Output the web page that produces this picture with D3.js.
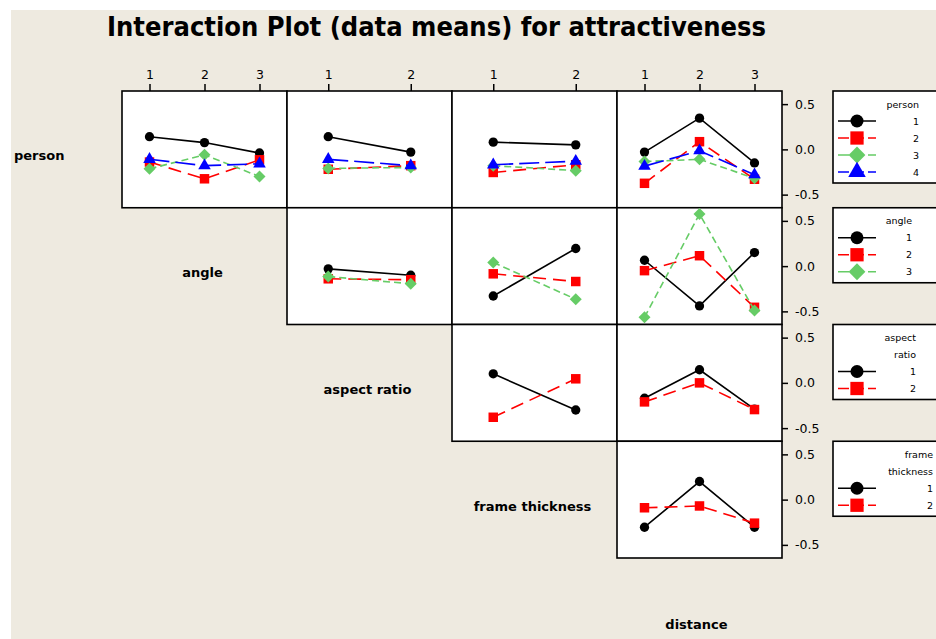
<!DOCTYPE html>
<html>
<head>
<meta charset="utf-8">
<script src="https://cdn.jsdelivr.net/npm/d3@7"></script>
<style>
  body { margin: 0; background: #ffffff; }
  svg { display: block; }
</style>
</head>
<body>
<script>

var title = "Interaction Plot (data means) for attractiveness";
var rowFactors = [ "person", "angle", "aspect ratio", "frame thickness" ];
var colFactors = [ "angle", "aspect ratio", "frame thickness", "distance" ];
var colLevels = [ [ 1, 2, 3 ], [ 1, 2 ], [ 1, 2 ], [ 1, 2, 3 ] ];
var rowLevels = [ [ 1, 2, 3, 4 ], [ 1, 2, 3 ], [ 1, 2 ], [ 1, 2 ] ];
var legendTitles = [ [ "person" ], [ "angle" ], [ "aspect", "ratio" ], [ "frame", "thickness" ] ];
var yTicks = [ -0.5, 0.0, 0.5 ];

// means of attractiveness: one array per trace level, one value per x level
var personByAngle = [ [ 0.14, 0.075, -0.04 ], [ -0.14, -0.325, -0.115 ], [ -0.215, -0.06, -0.30 ], [ -0.11, -0.18, -0.16 ] ];
var personByAspect = [ [ 0.14, -0.03 ], [ -0.22, -0.18 ], [ -0.21, -0.20 ], [ -0.11, -0.18 ] ];
var personByFrame = [ [ 0.08, 0.05 ], [ -0.255, -0.17 ], [ -0.18, -0.235 ], [ -0.17, -0.13 ] ];
var personByDistance = [ [ -0.03, 0.345, -0.15 ], [ -0.375, 0.085, -0.33 ], [ -0.135, -0.11, -0.32 ], [ -0.185, -0.015, -0.28 ] ];
var angleByAspect = [ [ -0.03, -0.10 ], [ -0.14, -0.15 ], [ -0.115, -0.195 ] ];
var angleByFrame = [ [ -0.33, 0.195 ], [ -0.085, -0.17 ], [ 0.04, -0.365 ] ];
var angleByDistance = [ [ 0.065, -0.44, 0.15 ], [ -0.05, 0.115, -0.455 ], [ -0.565, 0.575, -0.49 ] ];
var aspectByFrame = [ [ 0.10, -0.30 ], [ -0.38, 0.045 ] ];
var aspectByDistance = [ [ -0.17, 0.145, -0.29 ], [ -0.21, 0.0, -0.295 ] ];
var frameByDistance = [ [ -0.305, 0.20, -0.305 ], [ -0.09, -0.07, -0.26 ] ];

var panels = [
  { row: 0, col: 0, means: personByAngle },
  { row: 0, col: 1, means: personByAspect },
  { row: 0, col: 2, means: personByFrame },
  { row: 0, col: 3, means: personByDistance },
  { row: 1, col: 1, means: angleByAspect },
  { row: 1, col: 2, means: angleByFrame },
  { row: 1, col: 3, means: angleByDistance },
  { row: 2, col: 2, means: aspectByFrame },
  { row: 2, col: 3, means: aspectByDistance },
  { row: 3, col: 3, means: frameByDistance }
];

var seriesStyles = [
  { color: "#000000", dash: null, shape: "circle" },
  { color: "#ff0000", dash: "13,7", shape: "square" },
  { color: "#66cc66", dash: "7,4", shape: "diamond" },
  { color: "#0000ff", dash: "20,6", shape: "triangle" }
];

var chartWidth = 936, chartHeight = 639;
var gridLeft = 122, gridTop = 91, colW = 165, rowH = 116.75;
var fontFamily = "'DejaVu Sans', sans-serif";

var svg = d3.select( "body" ).append( "svg" )
  .attr( "width", chartWidth ).attr( "height", chartHeight );

svg.append( "rect" ).attr( "x", 11 ).attr( "y", 10 )
  .attr( "width", chartWidth - 11 ).attr( "height", chartHeight - 10 )
  .attr( "fill", "#eeeae0" );

svg.append( "text" )
  .attr( "x", 107 ).attr( "y", 36 )
  .attr( "textLength", 659 ).attr( "lengthAdjust", "spacingAndGlyphs" )
  .style( "font-family", fontFamily ).style( "font-weight", "bold" ).style( "font-size", "26px" )
  .text( title );

var xScales = colLevels.map( function( levels, c ) {
  return d3.scalePoint().domain( levels ).range( [ gridLeft + c * colW, gridLeft + ( c + 1 ) * colW ] ).padding( 0.5 );
} );
var yScales = rowFactors.map( function( f, r ) {
  return d3.scaleLinear().domain( [ -0.645, 0.645 ] ).range( [ gridTop + ( r + 1 ) * rowH, gridTop + r * rowH ] );
} );

function symbolPath( shape, big ) {
  var k = big ? 1.4 : 1;
  if( shape === "circle" ) {
    return d3.symbol( d3.symbolCircle, 68 * k * k )();
  }
  if( shape === "square" ) {
    return d3.symbol( d3.symbolSquare, 90 * k * k )();
  }
  if( shape === "diamond" ) {
    return d3.symbol( d3.symbolSquare, 72 * k * k )();
  }
  return d3.symbol( d3.symbolTriangle, 68 * k * k )();
}

function drawMarker( g, style, x, y, big ) {
  g.append( "path" )
    .attr( "d", symbolPath( style.shape, big ) )
    .attr( "transform", "translate(" + x + "," + y + ")" + ( style.shape === "diamond" ? " rotate(45)" : "" ) )
    .attr( "fill", style.color );
}

// panel frames
var frames = svg.append( "g" );
panels.forEach( function( p ) {
  frames.append( "rect" )
    .attr( "x", gridLeft + p.col * colW ).attr( "y", gridTop + p.row * rowH )
    .attr( "width", colW ).attr( "height", rowH )
    .attr( "fill", "#ffffff" ).attr( "stroke", "#000000" ).attr( "stroke-width", 1.6 );
} );

// top axes
colLevels.forEach( function( levels, c ) {
  var ax = svg.append( "g" ).attr( "transform", "translate(0," + gridTop + ")" )
    .call( d3.axisTop( xScales[ c ] ).tickSize( 7 ).tickPadding( 5 ) );
  ax.select( ".domain" ).remove();
  ax.selectAll( "line" ).attr( "stroke-width", 1.5 );
  ax.selectAll( "text" ).style( "font-family", fontFamily ).style( "font-size", "12.5px" );
} );

// right axes
rowFactors.forEach( function( f, r ) {
  var ax = svg.append( "g" ).attr( "transform", "translate(" + ( gridLeft + 4 * colW ) + ",0)" )
    .call( d3.axisRight( yScales[ r ] ).tickValues( yTicks ).tickSize( 6 ).tickPadding( 7 )
      .tickFormat( function( v ) { return v.toFixed( 1 ); } ) );
  ax.select( ".domain" ).remove();
  ax.selectAll( "line" ).attr( "stroke-width", 1.5 );
  ax.selectAll( "text" ).style( "font-family", fontFamily ).style( "font-size", "12.5px" );
} );

// traces
panels.forEach( function( p ) {
  var g = svg.append( "g" );
  var x = xScales[ p.col ], y = yScales[ p.row ];
  var levels = colLevels[ p.col ];
  p.means.forEach( function( values, s ) {
    var style = seriesStyles[ s ];
    var line = d3.line()
      .x( function( v, i ) { return x( levels[ i ] ); } )
      .y( function( v ) { return y( v ); } );
    g.append( "path" ).datum( values ).attr( "d", line )
      .attr( "fill", "none" ).attr( "stroke", style.color ).attr( "stroke-width", 1.6 )
      .attr( "stroke-dasharray", style.dash );
    values.forEach( function( v, i ) {
      drawMarker( g, style, x( levels[ i ] ), y( v ), false );
    } );
  } );
} );

// factor names on the diagonal
rowFactors.forEach( function( f, r ) {
  var isFirst = r === 0;
  svg.append( "text" )
    .attr( "x", isFirst ? 14 : gridLeft + ( r - 1 ) * colW + colW / 2 - 2 )
    .attr( "y", gridTop + r * rowH + rowH / 2 + 11 )
    .attr( "text-anchor", isFirst ? "start" : "middle" )
    .style( "font-family", fontFamily ).style( "font-weight", "bold" ).style( "font-size", "13px" )
    .text( f );
} );
svg.append( "text" )
  .attr( "x", gridLeft + 3 * colW + colW / 2 - 3 ).attr( "y", 629 )
  .attr( "text-anchor", "middle" )
  .style( "font-family", fontFamily ).style( "font-weight", "bold" ).style( "font-size", "13px" )
  .text( colFactors[ 3 ] );

// legends
var legendRight = [ 919, 912, 916, 933 ];
rowLevels.forEach( function( levels, r ) {
  var lines = legendTitles[ r ].length + levels.length;
  var y0 = gridTop + r * rowH;
  var g = svg.append( "g" );
  g.append( "rect" )
    .attr( "x", 833 ).attr( "y", y0 )
    .attr( "width", 140 ).attr( "height", 24 + ( lines - 1 ) * 17 )
    .attr( "fill", "#ffffff" ).attr( "stroke", "#000000" ).attr( "stroke-width", 1.6 );
  legendTitles[ r ].forEach( function( t, i ) {
    g.append( "text" )
      .attr( "x", legendRight[ r ] ).attr( "y", y0 + 13 + i * 17 + 3.5 )
      .attr( "text-anchor", "end" )
      .style( "font-family", fontFamily ).style( "font-size", "9.5px" )
      .text( t );
  } );
  levels.forEach( function( lv, i ) {
    var style = seriesStyles[ i ];
    var ly = y0 + 13 + ( legendTitles[ r ].length + i ) * 17;
    g.append( "line" )
      .attr( "x1", 838 ).attr( "x2", 876 ).attr( "y1", ly ).attr( "y2", ly )
      .attr( "stroke", style.color ).attr( "stroke-width", 1.6 )
      .attr( "stroke-dasharray", style.dash ? "11,4" : null );
    drawMarker( g, style, 857, ly, true );
    g.append( "text" )
      .attr( "x", legendRight[ r ] ).attr( "y", ly + 3.5 )
      .attr( "text-anchor", "end" )
      .style( "font-family", fontFamily ).style( "font-size", "9.5px" )
      .text( lv );
  } );
} );

</script>
</body>
</html>
